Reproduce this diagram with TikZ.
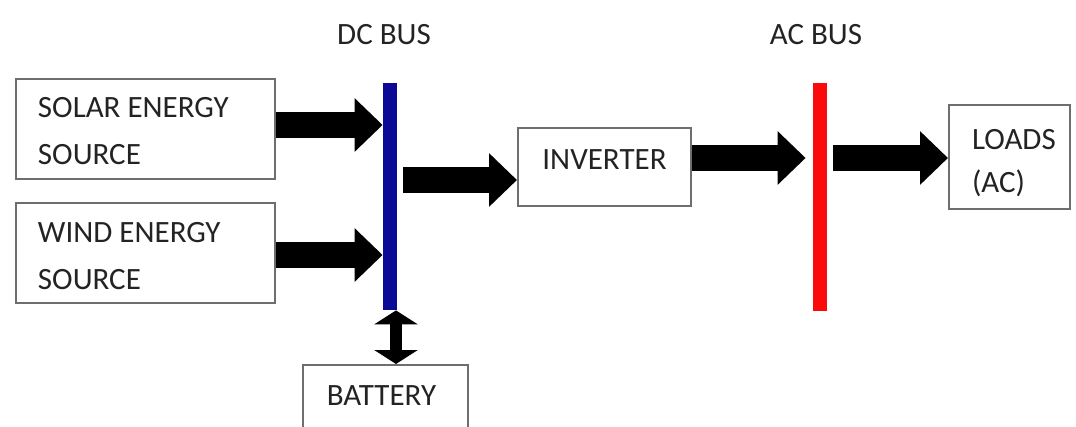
\documentclass[tikz,border=0pt]{standalone}
\usepackage{fontspec}
\setmainfont{Carlito}
\usetikzlibrary{arrows.meta}
\definecolor{dcblue}{RGB}{10,10,150}
\definecolor{acred}{RGB}{250,10,10}
\definecolor{boxgray}{RGB}{110,110,110}
\definecolor{txt}{RGB}{35,35,35}
\begin{document}
\begin{tikzpicture}[x=0.5pt,y=-0.5pt,
  box/.style={draw=boxgray, line width=1pt, inner sep=0pt, text=txt,
    font=\fontsize{15.5}{23.5}\selectfont},
  lbl/.style={text=txt, font=\fontsize{15.5}{18}\selectfont, inner sep=0pt},
  bus/.style={inner sep=0pt, minimum width=7pt},
  bigarrow/.style={line width=13pt, -{Triangle[length=14pt,width=26pt]}},
  dblarrow/.style={line width=6pt, {Triangle[length=7pt,width=21.5pt]}-{Triangle[length=7pt,width=21.5pt]}}]
\useasboundingbox (0,0) rectangle (1076,427);

% labels
\node[lbl] (dclabel) at (384,35) {DC BUS};
\node[lbl] (aclabel) at (816,35) {AC BUS};

% sources
\node[box, minimum width=129.5pt, minimum height=50pt, text height=9pt, text depth=20pt]
  (solar) at (145.5,129) {\hspace*{11pt}\parbox[t]{118.5pt}{\raggedright SOLAR ENERGY\\SOURCE}};
\node[box, minimum width=129.5pt, minimum height=50pt, text height=9pt, text depth=20pt]
  (wind) at (145.5,253.5) {\hspace*{11pt}\parbox[t]{118.5pt}{\raggedright WIND ENERGY\\SOURCE}};

% buses
\node[bus, fill=dcblue, minimum height=113.5pt] (dcbus) at (390,196.5) {};
\node[bus, fill=acred, minimum height=114pt] (acbus) at (820,197) {};

% inverter
\node[box, minimum width=86.5pt, minimum height=39pt, text height=12pt, text depth=9pt]
  (inv) at (604.5,167) {INVERTER};

% loads
\node[box, minimum width=60.5pt, minimum height=52pt, text height=10pt, text depth=17pt,
  font=\fontsize{15.5}{21.5}\selectfont]
  (loads) at (1009.5,157) {\hspace*{11.5pt}\parbox[t]{49pt}{\raggedright LOADS\\(AC)}};

% battery
\node[box, anchor=north, minimum width=82.5pt,
  text height=20pt, text depth=40pt] (bat) at (385.5,364) {BATTERY\hspace*{4pt}};

% arrows
\coordinate (s1) at ([yshift=2pt]solar.east);
\draw[bigarrow] (s1) -- (s1 -| dcbus.west);
\coordinate (w1) at ([yshift=-0.75pt]wind.east);
\draw[bigarrow] (w1) -- (w1 -| dcbus.west);
\coordinate (i1) at ([yshift=-6.5pt]inv.west);
\draw[bigarrow, shorten <=3pt] (i1 -| dcbus.east) -- (i1);
\coordinate (i2) at ([yshift=4.5pt]inv.east);
\draw[bigarrow, shorten >=3.5pt] (i2) -- (i2 -| acbus.west);
\coordinate (l1) at ([yshift=-0.5pt]loads.west);
\draw[bigarrow, shorten <=3pt] (l1 -| acbus.east) -- (l1);
\draw[dblarrow] ([xshift=3pt]dcbus.south) -- ([xshift=5.25pt]bat.north);
\end{tikzpicture}
\end{document}
